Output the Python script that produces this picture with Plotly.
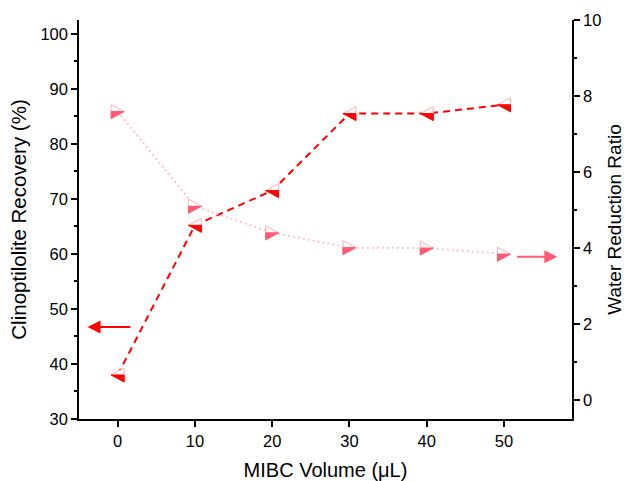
import plotly.graph_objects as go

mibc = [0, 10, 20, 30, 40, 50]
recovery = [38.0, 65.2, 71.5, 85.5, 85.5, 87.1]
water_ratio = [7.59, 5.1, 4.40, 4.01, 4.0, 3.84]

x_ticks = [0, 10, 20, 30, 40, 50]
left_ticks = [30, 40, 50, 60, 70, 80, 90, 100]
right_ticks = [0, 2, 4, 6, 8, 10]

RED = "#ff0000"
RED_OUT = "#ffb0b0"
PINK = "#ff5a73"
PINK_OUT = "#ffb0bc"
PINK_LINE = "#ffc4cc"
FONT = "Liberation Sans, Arial, sans-serif"

fig = go.Figure()
fig.add_trace(go.Scatter(x=mibc, y=recovery, mode="lines",
                         line=dict(color=RED, width=2, dash="7px,5px"),
                         yaxis="y", showlegend=False, hoverinfo="skip"))
fig.add_trace(go.Scatter(x=mibc, y=water_ratio, mode="lines",
                         line=dict(color=PINK_LINE, width=2, dash="2px,3px"),
                         yaxis="y2", showlegend=False, hoverinfo="skip"))

W, H = 6.5, 7.0
shapes = []
def add_marker(xv, yv, yref, direction, out_col, fill_col):
    if direction == "left":
        full = f"M {-W},0 L {W},{H} L {W},{-H} Z"
        half = f"M {-W},0 L {W},0 L {W},{-H} Z"
    else:
        full = f"M {W},0 L {-W},{H} L {-W},{-H} Z"
        half = f"M {W},0 L {-W},0 L {-W},{-H} Z"
    common = dict(type="path", xref="x", yref=yref, xsizemode="pixel",
                  ysizemode="pixel", xanchor=xv, yanchor=yv, layer="above")
    shapes.append(dict(path=full, fillcolor="white",
                       line=dict(color=out_col, width=1), **common))
    shapes.append(dict(path=half, fillcolor=fill_col,
                       line=dict(color=fill_col, width=1), **common))

for xv, yv in zip(mibc, recovery):
    add_marker(xv, yv, "y", "left", RED_OUT, RED)
for xv, yv in zip(mibc, water_ratio):
    add_marker(xv, yv, "y2", "right", PINK_OUT, PINK)

annotations = [
    dict(x=-3.9, y=46.7, ax=1.85, ay=46.7, xref="x", yref="y", axref="x", ayref="y",
         showarrow=True, arrowhead=2, arrowsize=1.3, arrowwidth=2, arrowcolor=RED, text=""),
    dict(x=56.9, y=3.77, ax=51.5, ay=3.77, xref="x", yref="y2", axref="x", ayref="y2",
         showarrow=True, arrowhead=2, arrowsize=1.3, arrowwidth=2, arrowcolor=PINK, text=""),
]

axis_common = dict(showline=True, linecolor="black", linewidth=1.5, ticks="outside",
                   ticklen=6, tickwidth=1.5, tickcolor="black", showgrid=False,
                   zeroline=False, automargin=False,
                   tickfont=dict(family=FONT, size=16.5, color="black"))

fig.update_layout(
    width=625, height=481,
    margin=dict(l=79, r=53, t=20, b=62),
    paper_bgcolor="white", plot_bgcolor="white",
    font=dict(family=FONT, color="black"),
    shapes=shapes, annotations=annotations,
    xaxis=dict(range=[-5, 58.8], tickvals=x_ticks, ticktext=[str(v) for v in x_ticks],
               title=dict(text="MIBC Volume (μL)", font=dict(family=FONT, size=20), standoff=24),
               **axis_common),
    yaxis=dict(range=[30, 102.5], tickvals=left_ticks,
               minor=dict(ticks="outside", ticklen=3, tickwidth=1.5, tickcolor="black", dtick=5, tick0=0),
               title=dict(text="Clinoptilolite Recovery (%)", font=dict(family=FONT, size=20.5), standoff=8),
               **axis_common),
    yaxis2=dict(range=[-0.5, 10], tickvals=right_ticks, overlaying="y", side="right",
                minor=dict(ticks="outside", ticklen=3, tickwidth=1.5, tickcolor="black", dtick=1, tick0=0),
                title=dict(text="Water Reduction Ratio", font=dict(family=FONT, size=19), standoff=14),
                **axis_common),
)

fig.write_html("out.html")
